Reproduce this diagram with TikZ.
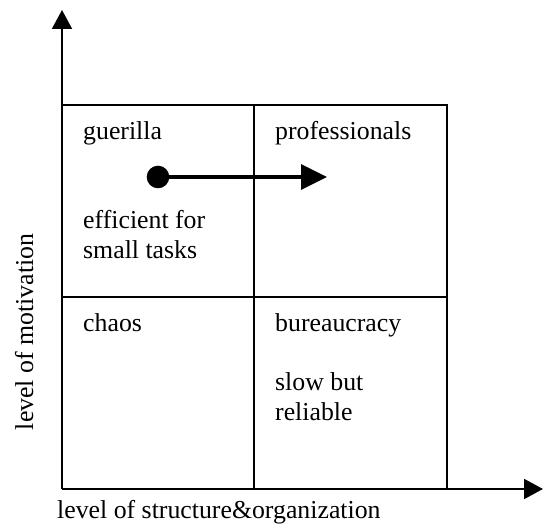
\documentclass[tikz,border=0pt]{standalone}
\usepackage{fontspec}
\setmainfont{Liberation Serif}
\usetikzlibrary{arrows.meta}
\begin{document}
\begin{tikzpicture}[x=1pt,y=-1pt,
  txt/.style={anchor=base west,inner sep=0pt,font=\fontsize{25.8}{29.7}\selectfont},
  axis/.style={line width=2pt,-{Triangle[length=19pt,width=20pt]}},
  grid/.style={line width=1.7pt},
  move/.style={line width=3.2pt,-{Triangle[length=26pt,width=25pt]}},
  dotnode/.style={circle,fill=black,inner sep=0pt,minimum size=22.6pt}]
\useasboundingbox (0,0) rectangle (547,526);
% axes
\coordinate (o) at (62,489);
\coordinate (ytop) at (62,10);
\coordinate (xend) at (543,489);
\draw[axis] (o) -- (ytop);
\draw[axis] (o) -- (xend);
% two-by-two grid
\coordinate (tl) at (62,105);
\coordinate (br) at (447,489);
\draw[line width=2pt] (tl) -| (br);
\draw[grid] (254,105) -- (254,489);
\draw[grid] (62,297) -- (447,297);
% quadrant labels
\node[txt] (guer) at (83,140) {guerilla};
\node[txt] (eff1) at (83,229) {efficient for};
\node[txt] (eff2) at (83,258.7) {small tasks};
\node[txt] (prof) at (275,140) {professionals};
\node[txt] (chaos) at (83,332) {chaos};
\node[txt] (bur) at (275,332) {bureaucracy};
\node[txt] (slow1) at (275,391) {slow but};
\node[txt] (slow2) at (275,420.7) {reliable};
% movement from guerilla to professionals
\node[dotnode] (dot) at (158,177) {};
\coordinate (tip) at (327,177);
\draw[move] (dot.center) -- (tip);
% axis titles
\node[txt] (xlab) at (57,519) {level of structure\&organization};
\node[txt,anchor=base,rotate=90] (ylab) at (33,332) {level of motivation};
\end{tikzpicture}
\end{document}
